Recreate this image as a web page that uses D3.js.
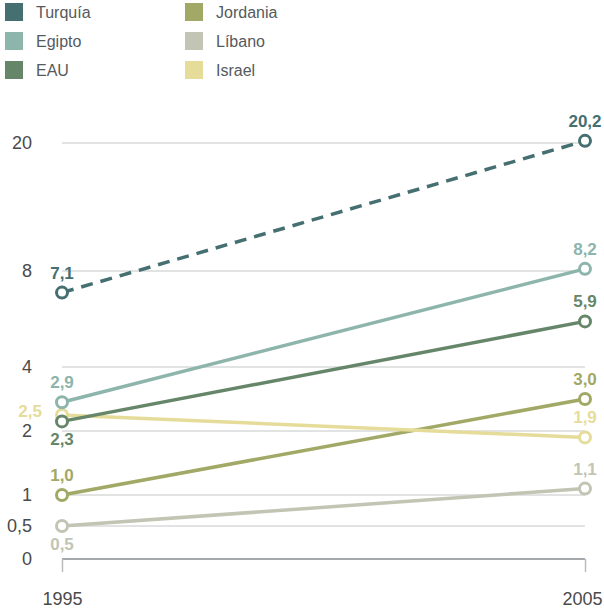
<!DOCTYPE html>
<html><head><meta charset="utf-8">
<script src="https://cdn.jsdelivr.net/npm/d3@7"></script>
<style>body{margin:0;background:#fff}svg{display:block}</style>
</head><body>
<script>
const years = ["1995", "2005"];
const countries = ["Turquía", "Egipto", "EAU", "Jordania", "Líbano", "Israel"];
const colors = ["#456f71", "#8db5ab", "#66866a", "#a2a865", "#c2c5b3", "#e6dc9a"];
const values1995 = [7.1, 2.9, 2.3, 1.0, 0.5, 2.5];
const values2005 = [20.2, 8.2, 5.9, 3.0, 1.1, 1.9];
const tickValues = [0, 0.5, 1, 2, 4, 8, 20];
const tickLabels = ["0", "0,5", "1", "2", "4", "8", "20"];
const dashed = [true, false, false, false, false, false];
// label placement per country for [1995, 2005]: "above", "below", "left"
const labelPos = [["above","above"],["above","above"],["below","above"],["above","above"],["below","above"],["left","above"]];

const W = 604, H = 611;
const svg = d3.select("body").append("svg").attr("width", W).attr("height", H)
  .style("font-family", "'Liberation Sans', Arial, sans-serif");

const x = d3.scalePoint().domain(years).range([62, 585]);
const y = d3.scaleLinear().domain(tickValues).range([559, 526, 495, 431, 367, 271, 143]);

const fmt = v => d3.format(".1f")(v).replace(".", ",");

// gridlines
svg.append("g").selectAll("line").data(tickValues.filter(v => v > 0)).join("line")
  .attr("x1", 62).attr("x2", 585).attr("y1", d => y(d)).attr("y2", d => y(d))
  .attr("stroke", "#c4c6c6").attr("stroke-width", 1);

// y tick labels
svg.append("g").selectAll("text").data(tickValues).join("text")
  .attr("x", 32).attr("y", d => y(d)).attr("dy", "0.35em").attr("text-anchor", "end")
  .attr("font-size", 18).attr("fill", "#4a4a4a").text((d, i) => tickLabels[i]);

// x axis
const xAxis = d3.axisBottom(x).tickSize(13).tickPadding(20);
const gx = svg.append("g").attr("transform", `translate(0,${y(0)})`).call(xAxis);
gx.select(".domain").attr("d", `M62,0H585`).attr("stroke", "#4d5558").attr("stroke-width", 1.2);
gx.selectAll(".tick line").attr("stroke", "#b9bcbc").attr("stroke-width", 1.5);
gx.selectAll(".tick text").attr("font-size", 18).attr("fill", "#4a4a4a")
  .attr("font-family", "'Liberation Sans', Arial, sans-serif");
gx.selectAll(".tick text").filter(d => d === years[years.length - 1])
  .attr("text-anchor", "end").attr("x", W - 2 - x(years[years.length - 1]));

// series
const series = countries.map((c, i) => ({name: c, color: colors[i], dashed: dashed[i],
  vals: [values1995[i], values2005[i]], pos: labelPos[i]}));
const order = [4, 3, 5, 2, 1, 0];
const line = d3.line().x((d, j) => x(years[j])).y(d => y(d));

order.forEach(i => {
  const s = series[i];
  const g = svg.append("g");
  g.append("path").attr("d", line(s.vals)).attr("fill", "none")
    .attr("stroke", s.color).attr("stroke-width", 3.5)
    .attr("stroke-dasharray", s.dashed ? "12,8" : null);
  g.selectAll("circle").data(s.vals).join("circle")
    .attr("cx", (d, j) => x(years[j])).attr("cy", d => y(d)).attr("r", 5.5)
    .attr("fill", "#fff").attr("stroke", s.color).attr("stroke-width", 3);
  g.selectAll("text").data(s.vals).join("text")
    .attr("x", (d, j) => s.pos[j] === "left" ? x(years[j]) - 20 : x(years[j]))
    .attr("y", (d, j) => s.pos[j] === "above" ? y(d) - 14 : s.pos[j] === "below" ? y(d) + 24 : y(d) + 2)
    .attr("text-anchor", (d, j) => s.pos[j] === "left" ? "end" : "middle")
    .attr("font-size", 17).attr("font-weight", "bold").attr("fill", s.color)
    .text(d => fmt(d));
});

// legend
const leg = svg.append("g");
countries.forEach((c, i) => {
  const col = Math.floor(i / 3), row = i % 3;
  const lx = 5 + col * 180, ly = 3 + row * 29;
  leg.append("rect").attr("x", lx).attr("y", ly).attr("width", 18).attr("height", 18).attr("fill", colors[i]);
  leg.append("text").attr("x", lx + 31).attr("y", ly + 15).attr("font-size", 16)
    .attr("fill", "#555a5e").text(c);
});
</script>
</body></html>
